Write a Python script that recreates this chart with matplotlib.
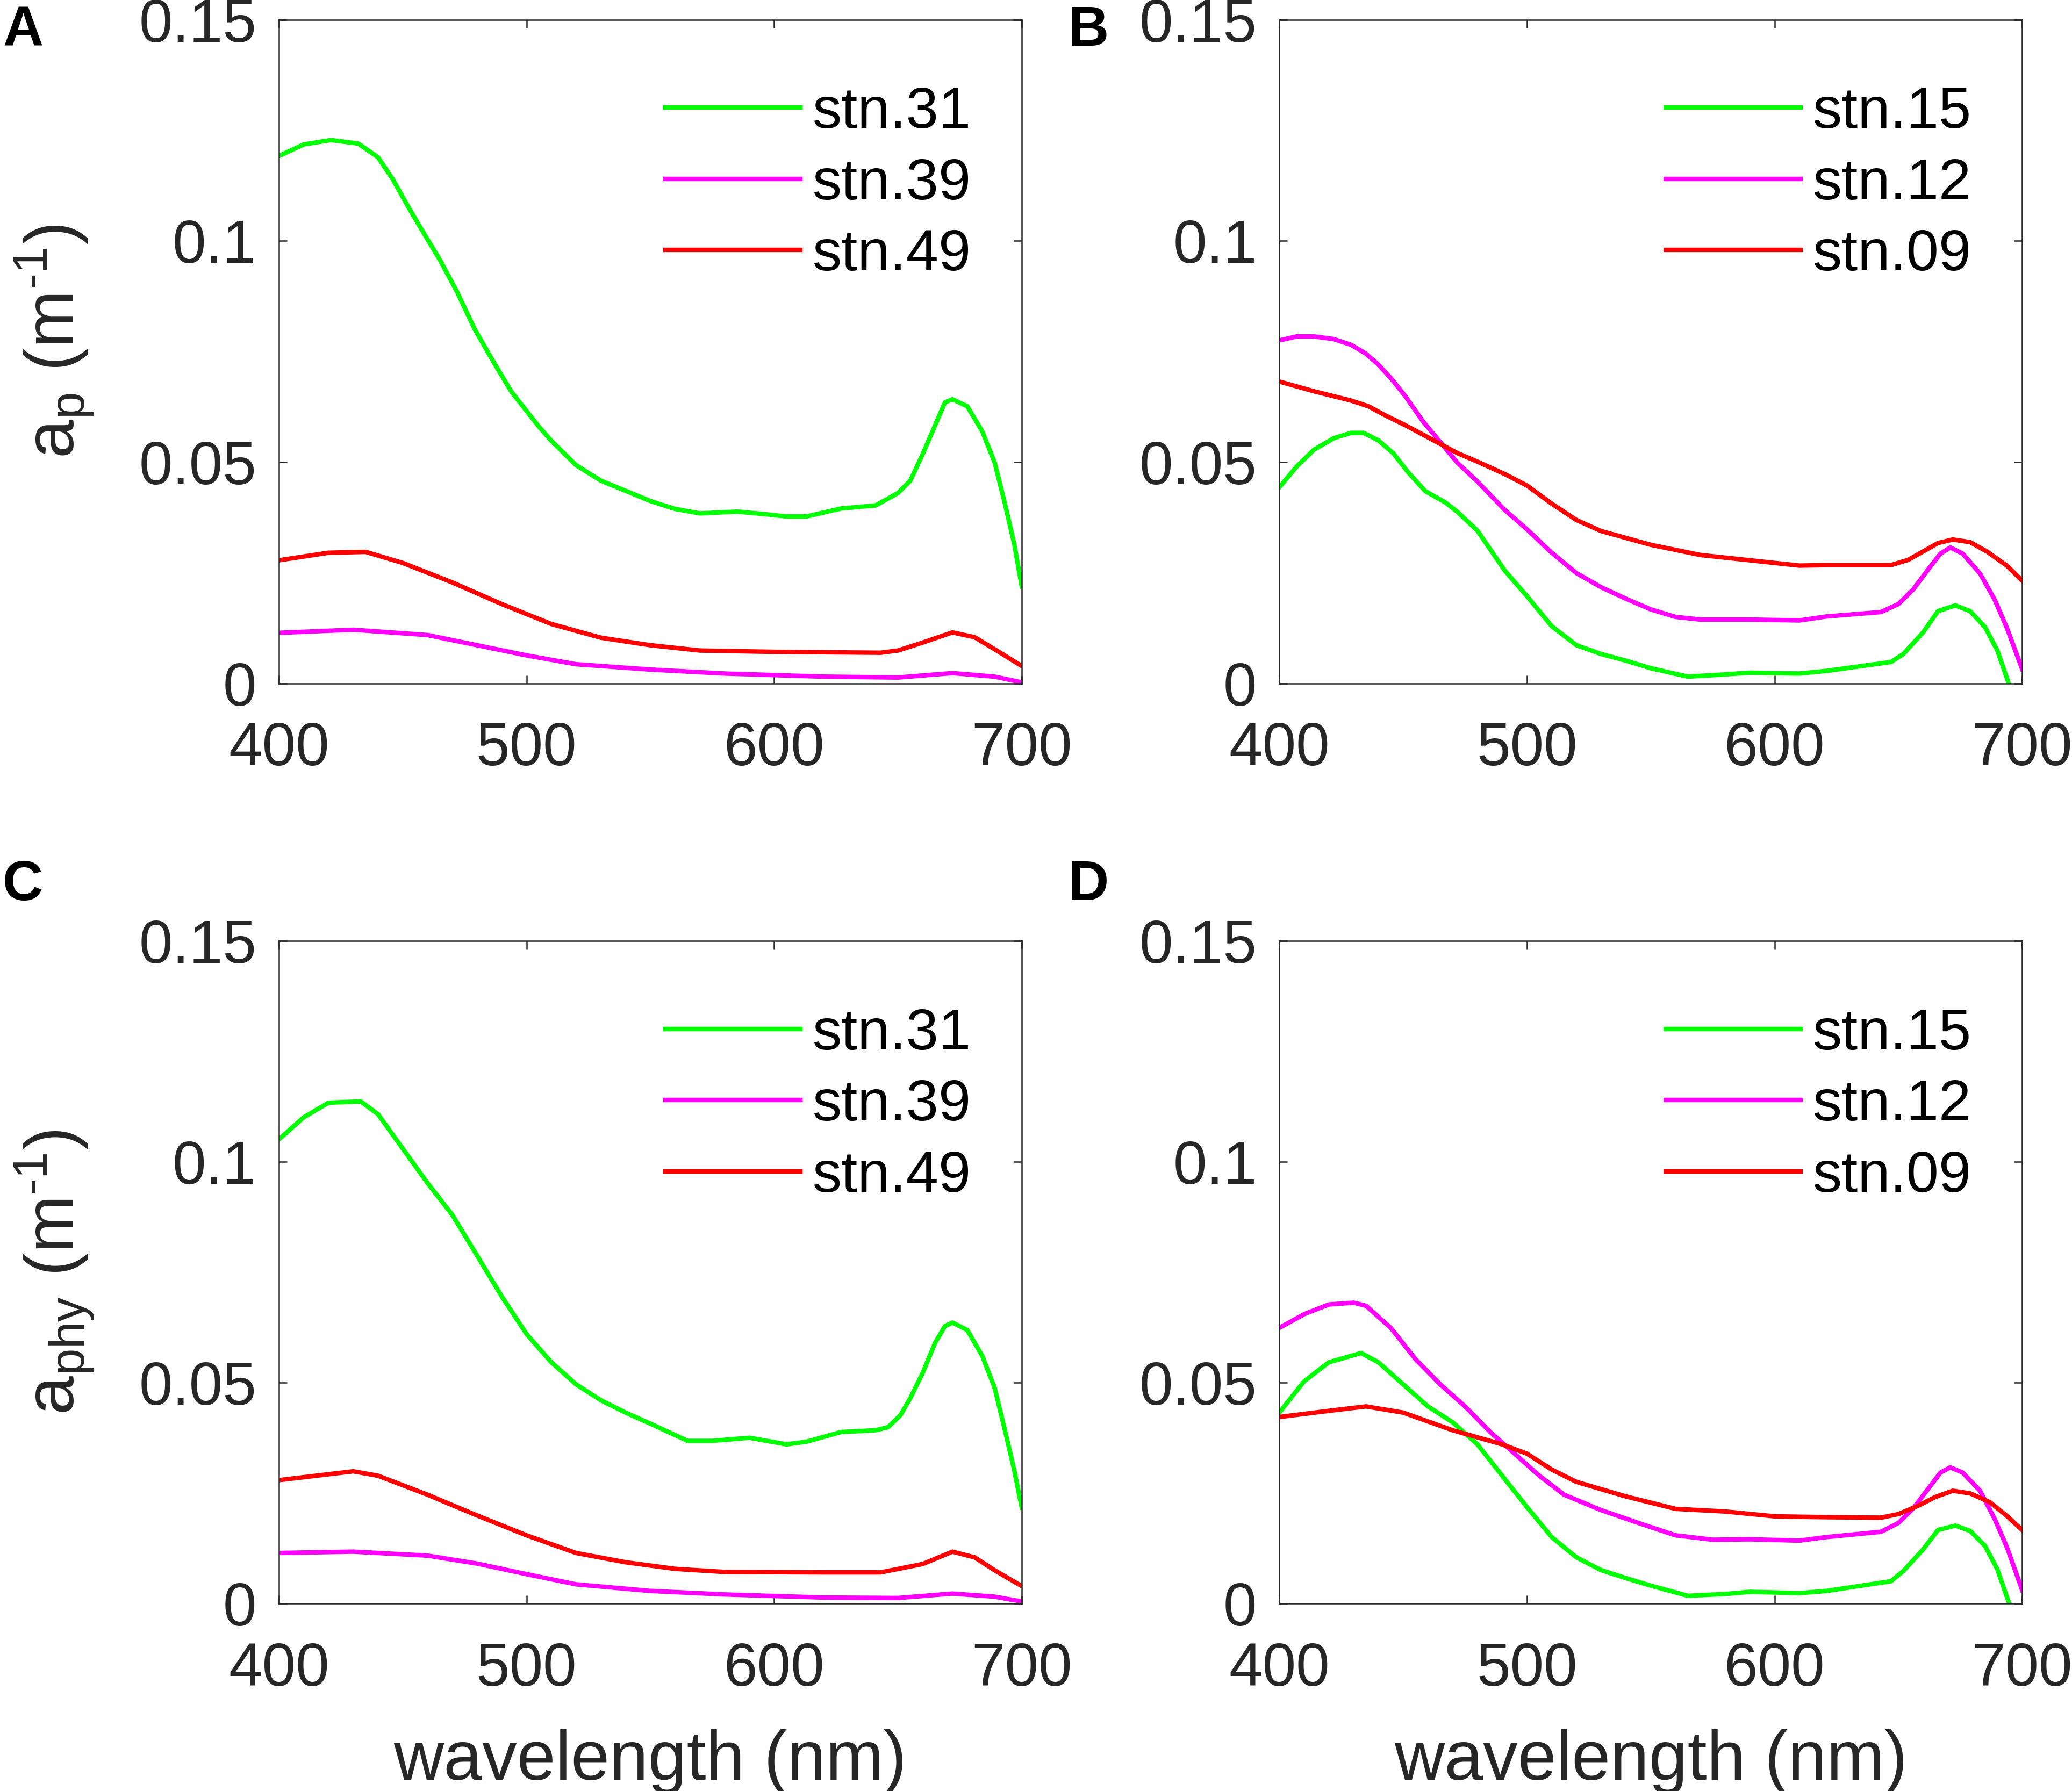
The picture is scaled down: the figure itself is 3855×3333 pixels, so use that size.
import matplotlib
matplotlib.use('Agg')
from matplotlib import pyplot as plt

plt.rcParams['font.family'] = ['Liberation Sans', 'DejaVu Sans']
plt.rcParams['mathtext.fontset'] = 'custom'
plt.rcParams['mathtext.rm'] = 'Liberation Sans'
plt.rcParams['mathtext.it'] = 'Liberation Sans'

# panel A: a_p, stations 31 / 39 / 49
wl_a31 = [400, 410, 421, 432, 440, 446, 452, 458, 465, 472, 479, 487, 494, 505, 510, 520,
          530, 540, 550, 560, 570, 585, 595, 605, 613, 627, 641, 650, 655, 660, 665, 669,
          672, 678, 684, 689, 693, 697, 700]
ap_31 = [0.1192, 0.1218, 0.1228, 0.1220, 0.1189, 0.1139, 0.1079, 0.1022, 0.0957, 0.0884,
         0.0801, 0.0723, 0.0658, 0.0580, 0.0548, 0.0493, 0.0458, 0.0435, 0.0412, 0.0394,
         0.0384, 0.0388, 0.0383, 0.0377, 0.0377, 0.0395, 0.0402, 0.0430, 0.0458, 0.0518,
         0.0583, 0.0635, 0.0642, 0.0626, 0.0570, 0.0500, 0.0411, 0.0314, 0.0219]
wl_a39 = [400, 430, 460, 480, 500, 520, 550, 580, 620, 650, 672, 689, 700]
ap_39 = [0.0114, 0.0121, 0.0109, 0.0086, 0.0063, 0.0043, 0.0031, 0.0022, 0.0015, 0.0013,
         0.0023, 0.0015, 0.0002]
wl_a49 = [400, 420, 435, 450, 470, 490, 510, 530, 550, 570, 600, 643, 650, 660, 672, 681,
          689, 700]
ap_49 = [0.0278, 0.0295, 0.0297, 0.0272, 0.0228, 0.0179, 0.0134, 0.0103, 0.0086, 0.0074,
         0.0071, 0.0069, 0.0074, 0.0092, 0.0115, 0.0104, 0.0077, 0.0039]

# panel B: a_p, stations 15 / 12 / 09
wl_b15 = [400, 407, 414, 422, 429, 434, 440, 446, 452, 459, 467, 472, 480, 491, 500, 510,
          520, 530, 540, 550, 565, 580, 590, 610, 621, 647, 652, 660, 666, 673, 679, 685,
          690, 694.5, 700]
ap_15 = [0.0443, 0.0490, 0.0528, 0.0554, 0.0566, 0.0566, 0.0549, 0.0520, 0.0477, 0.0434,
         0.0409, 0.0387, 0.0345, 0.0255, 0.0197, 0.0129, 0.0086, 0.0066, 0.0051, 0.0034,
         0.0015, 0.0020, 0.0024, 0.0022, 0.0028, 0.0048, 0.0066, 0.0115, 0.0163, 0.0176,
         0.0163, 0.0127, 0.0074, 0.0001, -0.0060]
wl_b12 = [400, 407, 414, 422, 429, 435, 440, 445, 451, 458, 465, 472, 480, 491, 500, 510,
          520, 530, 540, 550, 560, 570, 590, 610, 621, 643, 650, 656, 662, 667, 671, 676,
          683, 689, 694, 700]
ap_12 = [0.0775, 0.0784, 0.0784, 0.0778, 0.0765, 0.0745, 0.0720, 0.0690, 0.0648, 0.0592,
         0.0545, 0.0498, 0.0456, 0.0392, 0.0348, 0.0295, 0.0249, 0.0217, 0.0191, 0.0167,
         0.0150, 0.0144, 0.0144, 0.0142, 0.0151, 0.0161, 0.0179, 0.0212, 0.0257, 0.0293,
         0.0307, 0.0293, 0.0248, 0.0188, 0.0123, 0.0032]
wl_b09 = [400, 414, 429, 436, 443, 451, 458, 465, 472, 480, 491, 500, 510, 520, 530, 550,
          570, 590, 610, 621, 647, 654, 661, 666, 672, 679, 686, 694, 700]
ap_09 = [0.0682, 0.0660, 0.0639, 0.0626, 0.0605, 0.0583, 0.0562, 0.0541, 0.0520, 0.0501,
         0.0473, 0.0447, 0.0406, 0.0369, 0.0344, 0.0313, 0.0290, 0.0278, 0.0266, 0.0267,
         0.0267, 0.0279, 0.0301, 0.0317, 0.0325, 0.0319, 0.0297, 0.0265, 0.0232]

# panel C: a_phy, stations 31 / 39 / 49
wl_c31 = [400, 410, 420, 433, 440, 450, 460, 470, 480, 490, 500, 510, 520, 530, 540, 550,
          565, 575, 590, 605, 613, 627, 641, 646, 651, 655, 660, 665, 669, 672, 678, 684,
          689, 693, 697, 700]
aphy_31 = [0.1051, 0.1101, 0.1134, 0.1137, 0.1108, 0.1030, 0.0952, 0.0880, 0.0788, 0.0695,
           0.0610, 0.0546, 0.0496, 0.0460, 0.0432, 0.0407, 0.0368, 0.0368, 0.0375, 0.0360,
           0.0366, 0.0388, 0.0392, 0.0399, 0.0426, 0.0465, 0.0522, 0.0590, 0.0628, 0.0636,
           0.0619, 0.0561, 0.0489, 0.0397, 0.0301, 0.0217]
wl_c39 = [400, 430, 460, 480, 500, 520, 550, 580, 620, 650, 672, 689, 700]
aphy_39 = [0.0114, 0.0117, 0.0108, 0.0090, 0.0066, 0.0043, 0.0028, 0.0020, 0.0013, 0.0012,
           0.0022, 0.0015, 0.0004]
wl_c49 = [400, 430, 440, 460, 480, 500, 520, 540, 560, 580, 620, 643, 660, 672, 681, 689,
          700]
aphy_49 = [0.0279, 0.0299, 0.0289, 0.0246, 0.0199, 0.0154, 0.0114, 0.0093, 0.0078, 0.0071,
           0.0070, 0.0070, 0.0089, 0.0117, 0.0104, 0.0075, 0.0039]

# panel D: a_phy, stations 15 / 12 / 09
wl_d15 = [400, 410, 420, 433, 440, 450, 460, 470, 480, 490, 500, 510, 520, 530, 540, 550,
          565, 580, 590, 610, 621, 647, 652, 660, 666, 673, 679, 685, 690, 694.5, 700]
aphy_15 = [0.0432, 0.0503, 0.0546, 0.0567, 0.0546, 0.0496, 0.0446, 0.0410, 0.0360, 0.0289,
           0.0218, 0.0150, 0.0104, 0.0075, 0.0057, 0.0040, 0.0017, 0.0021, 0.0026, 0.0023,
           0.0028, 0.0050, 0.0073, 0.0122, 0.0166, 0.0176, 0.0164, 0.0130, 0.0077, 0.0004,
           -0.0060]
wl_d12 = [400, 410, 420, 430, 435, 445, 455, 465, 475, 485, 495, 505, 515, 530, 545, 560,
          575, 590, 610, 621, 643, 650, 656, 662, 667, 671, 676, 683, 689, 694, 700]
aphy_12 = [0.0624, 0.0655, 0.0677, 0.0681, 0.0674, 0.0624, 0.0553, 0.0496, 0.0446, 0.0389,
           0.0339, 0.0289, 0.0246, 0.0211, 0.0182, 0.0154, 0.0144, 0.0145, 0.0142, 0.0150,
           0.0162, 0.0182, 0.0215, 0.0259, 0.0296, 0.0308, 0.0296, 0.0255, 0.0190, 0.0125,
           0.0030]
wl_d09 = [400, 420, 435, 450, 470, 490, 500, 510, 520, 540, 560, 580, 600, 621, 643, 650,
          658, 665, 672, 679, 687, 694, 700]
aphy_09 = [0.0422, 0.0436, 0.0446, 0.0432, 0.0392, 0.0360, 0.0339, 0.0303, 0.0275, 0.0242,
           0.0214, 0.0208, 0.0197, 0.0195, 0.0194, 0.0202, 0.0221, 0.0241, 0.0255, 0.0249,
           0.0229, 0.0197, 0.0166]

x_ticks = [400, 500, 600, 700]
y_ticks = [0, 0.05, 0.1, 0.15]
y_ticklabels = ['0', '0.05', '0.1', '0.15']
colors = ['#00ff00', '#ff00ff', '#ff0000']
dark = '#262626'

fig = plt.figure(figsize=(12.853, 11.11), dpi=300)

panels = [
    ('A', [0.1346, 0.6185, 0.3584, 0.3705],
     [(wl_a31, ap_31, 'stn.31'), (wl_a39, ap_39, 'stn.39'), (wl_a49, ap_49, 'stn.49')],
     r'a$_{\rm p}$ (m$^{\text{-}1}$)', None, 0.515),
    ('B', [0.6173, 0.6185, 0.3584, 0.3705],
     [(wl_b15, ap_15, 'stn.15'), (wl_b12, ap_12, 'stn.12'), (wl_b09, ap_09, 'stn.09')],
     None, None, 0.5),
    ('C', [0.1346, 0.1048, 0.3584, 0.3697],
     [(wl_c31, aphy_31, 'stn.31'), (wl_c39, aphy_39, 'stn.39'), (wl_c49, aphy_49, 'stn.49')],
     r'a$_{\rm phy}$ (m$^{\text{-}1}$)', 'wavelength (nm)', 0.5),
    ('D', [0.6173, 0.1048, 0.3584, 0.3697],
     [(wl_d15, aphy_15, 'stn.15'), (wl_d12, aphy_12, 'stn.12'), (wl_d09, aphy_09, 'stn.09')],
     None, 'wavelength (nm)', 0.5),
]

for letter, pos, series, ylab, xlab, ylab_y in panels:
    ax = fig.add_axes(pos)
    for (wl, vals, name), c in zip(series, colors):
        ax.plot(wl, vals, color=c, lw=2.0, label=name)
    ax.set_xlim(400, 700)
    ax.set_ylim(0, 0.15)
    ax.set_xticks(x_ticks)
    ax.set_yticks(y_ticks)
    ax.set_yticklabels(y_ticklabels)
    for s in ax.spines.values():
        s.set_color(dark)
        s.set_linewidth(0.6)
    ax.tick_params(direction='in', top=True, right=True, length=3.5, width=0.6,
                   colors=dark, labelsize=27)
    ax.tick_params(axis='x', pad=17)
    ax.tick_params(axis='y', pad=10)
    if ylab:
        ax.set_ylabel(ylab, fontsize=31, color=dark)
        ax.yaxis.set_label_coords(-0.245, ylab_y)
    if xlab:
        ax.set_xlabel(xlab, fontsize=31, color=dark)
        ax.xaxis.set_label_coords(0.5, -0.19)
    ax.legend(loc='upper left', bbox_to_anchor=(0.52, 0.90), frameon=False,
              fontsize=26, handlelength=2.32, handletextpad=0.2, labelspacing=0.3,
              borderpad=0, borderaxespad=0)
    fx = 0.0013 if letter in 'AC' else 0.5155
    fy = 0.997 if letter in 'AB' else 0.520
    fig.text(fx, fy, letter, fontsize=25, fontweight='bold', ha='left', va='top')

fig.savefig('out.png', dpi=300)
